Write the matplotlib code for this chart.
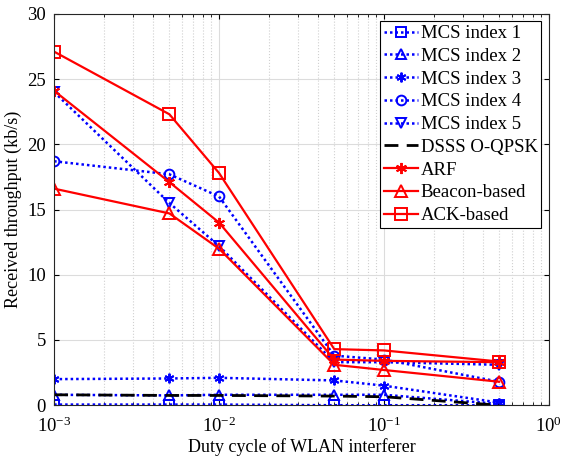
import numpy as np
import matplotlib.pyplot as plt

plt.rcParams['font.family'] = ['Liberation Serif', 'DejaVu Serif']
plt.rcParams['mathtext.fontset'] = 'stix'

duty = [1e-3, 5e-3, 1e-2, 5e-2, 1e-1, 5e-1]

mcs1 = [0.05, 0.05, 0.05, 0.0, 0.0, 0.0]
mcs2 = [0.8, 0.75, 0.8, 0.8, 0.8, 0.1]
mcs3 = [2.0, 2.05, 2.1, 1.9, 1.5, 0.2]
mcs4 = [18.7, 17.7, 16.0, 3.8, 3.5, 1.8]
mcs5 = [24.0, 15.5, 12.2, 3.3, 3.3, 3.1]
dsss = [0.8, 0.75, 0.75, 0.7, 0.65, 0.0]
arf = [24.1, 17.1, 14.0, 3.5, 3.4, 3.3]
beacon = [16.6, 14.7, 12.0, 3.1, 2.7, 1.8]
ack = [27.1, 22.3, 17.8, 4.3, 4.2, 3.35]

fig = plt.figure(figsize=(5.64, 4.61), dpi=100)
ax = fig.add_axes([0.096, 0.121, 0.877, 0.849])

blue = '#0000ff'
red = '#ff0000'
star = (6, 2, 0)
bkw = dict(color=blue, ls=(0, (1, 1.2)), lw=1.8, mfc='none', mew=1.4, ms=7)
rkw = dict(color=red, ls='-', lw=1.6, mfc='none', mew=1.4, ms=8)

ax.plot(duty, mcs1, marker='s', label='MCS index 1', **bkw)
ax.plot(duty, mcs2, marker='^', label='MCS index 2', **bkw)
ax.plot(duty, mcs3, marker=star, label='MCS index 3', **bkw)
ax.plot(duty, mcs4, marker='o', label='MCS index 4', **bkw)
ax.plot(duty, mcs5, marker='v', label='MCS index 5', **bkw)
ax.plot(duty, dsss, color='black', ls=(0, (5, 3)), lw=2, label='DSSS O-QPSK')
ax.plot(duty, arf, marker=star, label='ARF', **rkw)
ax.plot(duty, beacon, marker='^', label='Beacon-based', **rkw)
ax.plot(duty, ack, marker='s', label='ACK-based', **rkw)

ax.set_xscale('log')
ax.set_xlim(1e-3, 1)
ax.set_ylim(0, 30)
ax.set_yticks([0, 5, 10, 15, 20, 25, 30])
ax.grid(True, which='major', color='#dcdcdc', lw=0.8)
ax.grid(True, which='minor', color='#d0d0d0', ls=':', lw=0.8)
ax.set_axisbelow(True)
ax.tick_params(which='both', direction='in', top=True, right=True, labelsize=13.5)
ax.tick_params(axis='x', pad=8)
ax.tick_params(axis='y', pad=6)
for s in ax.spines.values():
    s.set_color('#262626')
    s.set_linewidth(0.8)

ax.set_xlabel('Duty cycle of WLAN interferer', fontsize=13, labelpad=2)
ax.set_ylabel('Received throughput (kb/s)', fontsize=13, labelpad=4)

leg = ax.legend(loc='upper right', fontsize=13.5, fancybox=False, framealpha=1,
                edgecolor='black', handlelength=1.8, handletextpad=0.15,
                labelspacing=0.3, borderpad=0.2, borderaxespad=0.4)
leg.get_frame().set_linewidth(0.8)

fig.savefig('out.png', dpi=100)
